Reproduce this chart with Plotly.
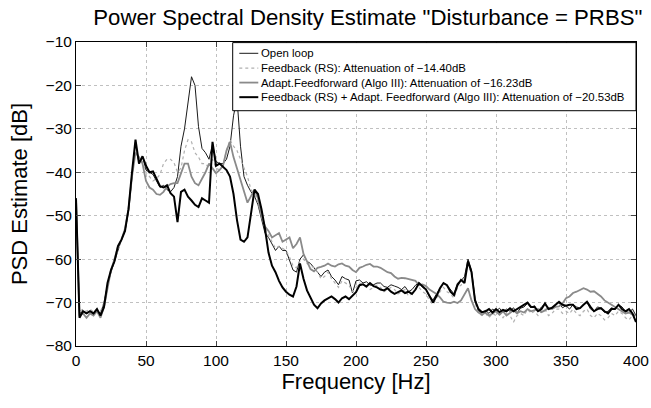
import plotly.graph_objects as go

# Frequency grid [Hz]
freq = [i * 2.5 for i in range(161)]

open_loop = [
    -46, -72.5, -72, -72.5, -72, -72.8, -71.8, -72.5, -70, -66, -63, -60.5, -57.5, -55.5, -53.5, -49, -41, -33, -38, -36.3,
    -39.5, -40, -40.5, -42, -43.5, -43, -44, -44.5, -43.5, -41, -34, -30, -24, -18, -20, -29.5, -34.5, -35.5, -37, -33.5,
    -37.5, -38, -38, -37, -34, -27, -23, -34, -41, -43, -44.5, -45.5, -47.5, -51, -54, -55, -56.5, -58, -57, -58,
    -58, -60.5, -62.5, -63, -60, -59, -60.5, -61, -62, -63, -64, -63, -62.5, -64, -64.8, -65.9, -64, -64.5, -64.8, -67.8,
    -65, -64.8, -65.5, -65.2, -66, -65.9, -65.5, -65.5, -66.3, -66.5, -65.9, -66.2, -66.5, -67, -66.3, -67.5, -67, -66, -65.5, -66.5,
    -67, -68.5, -69.4, -68, -66.7, -65.5, -66, -67, -68, -65.5, -65, -64, -60, -62.5, -69, -72, -72.4, -71.8, -72.5, -71.5,
    -72, -71.3, -72.3, -71.5, -72, -71.2, -72.4, -71.3, -71, -70.2, -71.2, -70.7, -72, -71, -70.3, -71.5, -71.3, -70.5, -70, -71.2,
    -70.7, -71.5, -70.5, -71, -71.3, -70.5, -70, -71.5, -72, -71, -71.3, -72.3, -72, -71.2, -71.5, -70.5, -71, -72, -72.3, -71.5,
    -73,
]

feedback_rs = [
    -46, -72, -71.5, -72, -71.5, -72.2, -71.5, -72, -70, -66, -63, -60.5, -57.5, -55.5, -53.5, -49, -41, -34, -37, -37.5,
    -40, -41, -42, -41.5, -40.5, -38, -37, -37, -37.8, -40, -39, -35, -32.5, -33, -35.5, -36.5, -38, -38, -39, -37,
    -39, -39.5, -38.5, -35, -32.5, -34, -35, -37, -39, -41, -44, -45, -47, -50, -53, -54.5, -56, -57.5, -57, -57.5,
    -58, -59.5, -61.5, -62, -60.5, -60, -61, -61.5, -62, -63, -64.5, -64, -63, -64.5, -65.5, -66.5, -65, -65.5, -66, -67.5,
    -66.5, -65.5, -66, -66.5, -67, -66.5, -66, -66.5, -67.5, -67, -66.5, -67, -68, -67.5, -67, -68.5, -68, -67, -66.5, -67.5,
    -68, -69.5, -70.5, -69, -67.5, -66.5, -67.5, -68, -69, -66.5, -66, -64.5, -61, -63.5, -70, -72.5, -73, -72.5, -73.5, -72.5,
    -73, -72.5, -73.5, -72.5, -73, -74.5, -73, -72.5, -73, -71.5, -72.5, -72, -73, -72, -71.5, -73, -72.5, -71.5, -71.5, -72.5,
    -72, -72.5, -71.5, -72.5, -73, -72, -71.5, -73, -73.5, -72.5, -73, -74, -73.5, -72.5, -73, -72, -72.5, -73.5, -74, -73,
    -74,
]

adapt_ff = [
    -46, -73, -72.5, -73.5, -72.5, -73, -72, -73.5, -71, -66.5, -62.5, -60, -57, -55.5, -53, -48.5, -41, -35.5, -36.5, -38,
    -42, -43.5, -44, -45, -45.2, -44.5, -43.3, -42.7, -42.5, -42.5, -40, -38, -38, -41, -42.5, -43, -41.5, -40, -38, -39,
    -40.2, -39.5, -38.5, -35, -33, -36.5, -39, -42, -44.5, -47, -45.5, -44, -46, -50, -52.5, -53.5, -55, -54.5, -54, -56,
    -55.5, -55, -57.5, -56.5, -55, -58.8, -60.5, -62.3, -62.8, -62, -61.8, -61.5, -61, -61.5, -61.7, -61.2, -61, -61.5, -61.7, -62.5,
    -63, -62, -61.7, -61.3, -61.1, -61.7, -61.7, -62, -62.5, -63, -63.2, -64, -64.5, -64.3, -64.4, -64.6, -64.7, -65, -66, -65.8,
    -66.2, -67, -67.5, -68, -68.8, -69.8, -70, -70.1, -69.8, -70.1, -69.5, -68, -66.7, -69.5, -71.5, -72.3, -72.8, -72.3, -73, -72.5,
    -72, -72.8, -72, -73, -72.3, -71.8, -72.5, -72, -72.3, -71.5, -72, -71.7, -71.5, -72.2, -71.8, -71.2, -71.5, -71, -70.9, -70.2,
    -69, -68.6, -67.8, -67.5, -67, -66.7, -67, -67.5, -67.4, -68, -68.6, -69.5, -70.1, -70.5, -71, -71.5, -72.2, -72.5, -72.3, -72.8,
    -73,
]

fb_plus_ff = [
    -46, -73.5, -72, -72.5, -72, -72.5, -71.5, -73, -71, -65.5, -62.5, -60.5, -57, -55.5, -53.5, -48.5, -40, -32.5, -38, -36.3,
    -38.5, -40, -39.8, -41.7, -43.2, -43.5, -43, -44.8, -45.6, -51.5, -44.5, -44, -45.6, -46.5, -47.5, -48, -46, -46.5, -47, -33,
    -38.5, -38, -38.7, -39.5, -41, -45, -51, -55.5, -56, -55, -49.5, -44, -45, -48.5, -53, -58.5, -61.5, -63, -65, -66.5,
    -67.5, -68.2, -68.6, -66.3, -61, -64.5, -67.2, -69, -70.5, -71.3, -70.2, -69.5, -69, -68.6, -69.2, -70, -69, -68.6, -69.2, -68.3,
    -67.6, -66, -65.8, -66.3, -65.5, -66.2, -66.5, -67, -67.2, -66.7, -67.5, -68, -67.5, -67.2, -67.8, -67.5, -68, -67, -65.5, -66.3,
    -67, -68.5, -70, -68.5, -66.7, -65.5, -66, -67.5, -68.3, -66, -64.8, -65.5, -60.5, -63, -69.5, -71.5, -72.2, -72, -71.5, -72.3,
    -71.5, -72.2, -71.7, -72, -71.3, -72, -71.5, -71, -70.3, -70, -71, -71, -72, -71.5, -70.2, -71.5, -71.2, -70.5, -69.8, -70.5,
    -70.7, -70.5, -70.5, -71.5, -71.3, -70.5, -69.8, -71, -72, -71.5, -71.3, -72, -72.5, -71.5, -71.5, -70.5, -71.5, -72, -71.5, -72.5,
    -74.5,
]

names = [
    "Open loop",
    "Feedback (RS): Attenuation of \u221214.40dB",
    "Adapt.Feedforward (Algo III): Attenuation of \u221216.23dB",
    "Feedback (RS) + Adapt. Feedforward (Algo III): Attenuation of \u221220.53dB",
]
series = [open_loop, feedback_rs, adapt_ff, fb_plus_ff]
styles = [
    dict(color="#1a1a1a", width=1),
    dict(color="#b0b0b0", width=1.2, dash="dot"),
    dict(color="#8a8a8a", width=1.8),
    dict(color="#000000", width=2),
]

x_ticks = [0, 50, 100, 150, 200, 250, 300, 350, 400]
y_ticks = [-80, -70, -60, -50, -40, -30, -20, -10]
y_tick_text = ["\u2212" + str(-v) for v in y_ticks]

FONT = "Liberation Sans, Arial, sans-serif"

fig = go.Figure()
for name, ys, st in zip(names, series, styles):
    fig.add_trace(go.Scatter(x=freq, y=ys, name=name, mode="lines", line=st,
                             showlegend=False))

# Legend box drawn MATLAB-style (inside axes, top right), in paper coordinates
leg_x0, leg_x1, leg_y0, leg_y1 = 0.2798, 1.0, 0.774, 0.998
fig.add_shape(type="rect", xref="paper", yref="paper", x0=leg_x0, x1=leg_x1,
              y0=leg_y0, y1=leg_y1, fillcolor="white",
              line=dict(color="black", width=1), layer="above")
row_y = [0.9628, 0.9140, 0.8665, 0.8185]
for name, st, yy in zip(names, styles, row_y):
    fig.add_shape(type="line", xref="paper", yref="paper", x0=0.2916, x1=0.3255,
                  y0=yy, y1=yy, line=st, layer="above")
    fig.add_annotation(text=name, xref="paper", yref="paper", x=0.3270, y=yy,
                       xanchor="left", yanchor="middle", showarrow=False,
                       font=dict(size=11.4, family=FONT, color="black"))

fig.update_layout(
    width=651, height=408,
    margin=dict(l=76, r=15, t=42, b=62),
    paper_bgcolor="white", plot_bgcolor="white",
    font=dict(family=FONT, color="black"),
    title=dict(text='Power Spectral Density Estimate "Disturbance = PRBS"',
               x=0.565, xanchor="center", y=0.978, yanchor="top",
               font=dict(size=22.2, family=FONT, color="black")),
    showlegend=False,
)
fig.update_xaxes(range=[0, 400], tickvals=x_ticks, ticks="inside", ticklen=5,
                 showline=True, linecolor="black", linewidth=1, mirror="ticks",
                 showgrid=True, gridcolor="#c0c0c0", griddash="dot", gridwidth=1,
                 zeroline=False, tickfont=dict(size=15.5, family=FONT),
                 automargin=False,
                 title=dict(text="Frequency [Hz]", font=dict(size=22, family=FONT), standoff=6))
fig.update_yaxes(range=[-80, -10], tickvals=y_ticks, ticktext=y_tick_text, ticks="inside", ticklen=5,
                 showline=True, linecolor="black", linewidth=1, mirror="ticks",
                 showgrid=True, gridcolor="#c0c0c0", griddash="dot", gridwidth=1,
                 zeroline=False, tickfont=dict(size=15.5, family=FONT),
                 automargin=False,
                 title=dict(text="PSD Estimate [dB]", font=dict(size=22, family=FONT), standoff=11))

fig.write_html("out.html", config={"displayModeBar": False},
               post_script="document.body.style.margin='0';")
